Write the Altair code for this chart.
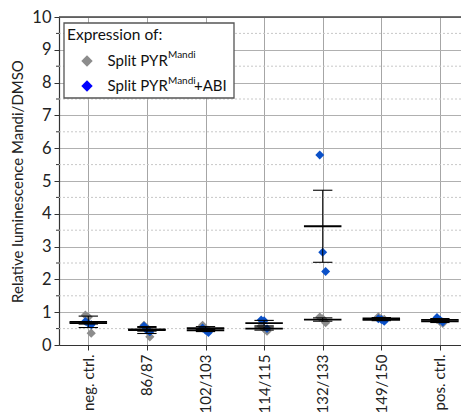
import altair as alt
import pandas as pd

# Constructs on the x axis
categories = ["neg. ctrl.", "86/87", "102/103", "114/115", "132/133", "149/150", "pos. ctrl."]

# Relative luminescence (Mandi/DMSO), three replicates per construct
pyr_values = [
    [0.91, 0.85, 0.36],
    [0.60, 0.52, 0.25],
    [0.60, 0.50, 0.45],
    [0.58, 0.50, 0.42],
    [0.85, 0.80, 0.68],
    [0.86, 0.80, 0.78],
    [0.78, 0.72, 0.66],
]
pyr_abi_values = [
    [0.72, 0.66, 0.62],
    [0.58, 0.45, 0.40],
    [0.52, 0.45, 0.38],
    [0.76, 0.74, 0.50],
    [5.79, 2.83, 2.24],
    [0.80, 0.78, 0.72],
    [0.84, 0.76, 0.70],
]

y_major = list(range(0, 11))
y_minor = [v + 0.5 for v in range(0, 10)]

GRAY = "#8c8c8c"
BLUE = "#0a50c8"
LEGEND_BLUE = "#0000ff"
FONT = "Lato"

rows = []
for i, cat in enumerate(categories):
    for group, vals in (("PYR", pyr_values[i]), ("PYR+ABI", pyr_abi_values[i])):
        for rep, v in enumerate(vals):
            rows.append({"idx": i, "category": cat, "group": group, "rep": rep, "value": v})
df = pd.DataFrame(rows)

label_expr = "[" + ",".join("'" + c + "'" for c in categories) + "][datum.value]"

x_scale = alt.Scale(domain=[-0.5, 6.36], nice=False, zero=False)
y_scale = alt.Scale(domain=[0, 10], nice=False, zero=True)

x_axis = alt.Axis(
    values=list(range(len(categories))), labelExpr=label_expr,
    labelAngle=-90, labelFontSize=15, labelFont=FONT, labelColor="#222",
    labelPadding=4, tickSize=5, tickColor="#333", domainColor="#333",
    domainWidth=1.2, grid=True, gridColor="#a6a6a6", gridWidth=1,
)
y_axis = alt.Axis(
    values=y_major, labelFontSize=16.5, labelFont=FONT, labelColor="#222",
    labelPadding=3, tickSize=5, tickColor="#333", domainColor="#333",
    domainWidth=1.2, grid=True, gridColor="#b0b0b0", gridWidth=1,
    titleFont=FONT, titleFontSize=15, titleFontWeight="normal",
    titleColor="#222", titlePadding=6,
)
Y_TITLE = "Relative luminescence Mandi/DMSO"


def xq(field):
    return alt.X(field, scale=x_scale, axis=x_axis, title=None)


def yq(field):
    return alt.Y(field, scale=y_scale, axis=y_axis, title=Y_TITLE)


base = alt.Chart(df)

# small horizontal spread of the replicate diamonds
points = base.transform_calculate(
    xj="datum.idx + (datum.rep - 1) * 0.05"
)

gray_pts = points.transform_filter(alt.datum.group == "PYR").mark_point(
    shape="diamond", filled=True, size=85, opacity=1, color=GRAY
).encode(x=xq("xj:Q"), y=yq("value:Q"))

blue_pts = points.transform_filter(alt.datum.group == "PYR+ABI").mark_point(
    shape="diamond", filled=True, size=80, opacity=1, color=BLUE
).encode(x=xq("xj:Q"), y=yq("value:Q"))

# mean +/- SEM for each construct and condition
stats = base.transform_aggregate(
    mean="mean(value)", sem="stderr(value)", groupby=["idx", "group"]
).transform_calculate(
    lo="datum.mean - datum.sem",
    hi="datum.mean + datum.sem",
    ml="datum.idx - 0.32",
    mr="datum.idx + 0.32",
    cl="datum.idx - 0.165",
    cr="datum.idx + 0.165",
)

mean_line = stats.mark_rule(color="black", strokeWidth=1.8).encode(
    x=xq("ml:Q"), x2="mr:Q", y=yq("mean:Q"),
)
cap_hi = stats.mark_rule(color="black", strokeWidth=1.1).encode(
    x=xq("cl:Q"), x2="cr:Q", y=yq("hi:Q"),
)
cap_lo = stats.mark_rule(color="black", strokeWidth=1.1).encode(
    x=xq("cl:Q"), x2="cr:Q", y=yq("lo:Q"),
)
stem = stats.mark_rule(color="black", strokeWidth=1).encode(
    x=xq("idx:Q"), y=yq("lo:Q"), y2="hi:Q",
)

# dotted minor gridlines and minor ticks
minor_df = pd.DataFrame({"v": y_minor})
minor_grid = alt.Chart(minor_df).mark_rule(
    color="#c8c8c8", strokeDash=[2, 2], strokeWidth=1
).encode(y=yq("v:Q"), x=alt.value(0), x2=alt.value(402))
minor_ticks = alt.Chart(minor_df).mark_rule(color="#333", strokeWidth=1).encode(
    y=yq("v:Q"), x=alt.value(-3), x2=alt.value(0),
)

# top frame line
frame_df = pd.DataFrame({"v": [10]})
top_frame = alt.Chart(frame_df).mark_rule(color="#444", strokeWidth=1.5).encode(
    y=yq("v:Q"), x=alt.value(0), x2=alt.value(402),
)

# legend box
one = pd.DataFrame({"k": [0]})
leg_box = alt.Chart(one).mark_rect(fill="white", stroke="#555", strokeWidth=1.3).encode(
    x=alt.value(5), x2=alt.value(175), y=alt.value(6), y2=alt.value(81)
)


def leg_text(text, x, y, size=15):
    return alt.Chart(one).mark_text(
        text=text, align="left", baseline="alphabetic", font=FONT,
        fontSize=size, color="#111"
    ).encode(x=alt.value(x), y=alt.value(y))


def leg_symbol(color, y):
    return alt.Chart(one).mark_point(
        shape="diamond", filled=True, size=130, opacity=1, color=color
    ).encode(x=alt.value(28), y=alt.value(y))


legend = [
    leg_box,
    leg_text("Expression of:", 8, 23, 15.5),
    leg_symbol(GRAY, 44),
    leg_text("Split PYR", 48.5, 48.5),
    leg_text("Mandi", 109, 41, 10),
    leg_symbol(LEGEND_BLUE, 69),
    leg_text("Split PYR", 48.5, 73.5),
    leg_text("Mandi", 109, 66.5, 10),
    leg_text("+ABI", 135, 73.5),
]

chart = alt.layer(
    minor_grid, minor_ticks, top_frame,
    gray_pts, blue_pts, mean_line, cap_hi, cap_lo, stem,
    *legend,
).properties(
    width=402, height=328,
    autosize=alt.AutoSizeParams(type="none"),
    padding={"left": 59, "top": 17, "right": 0, "bottom": 67},
).configure_view(stroke=None)

chart.save("out.html", embed_options={"renderer": "svg", "actions": False})
